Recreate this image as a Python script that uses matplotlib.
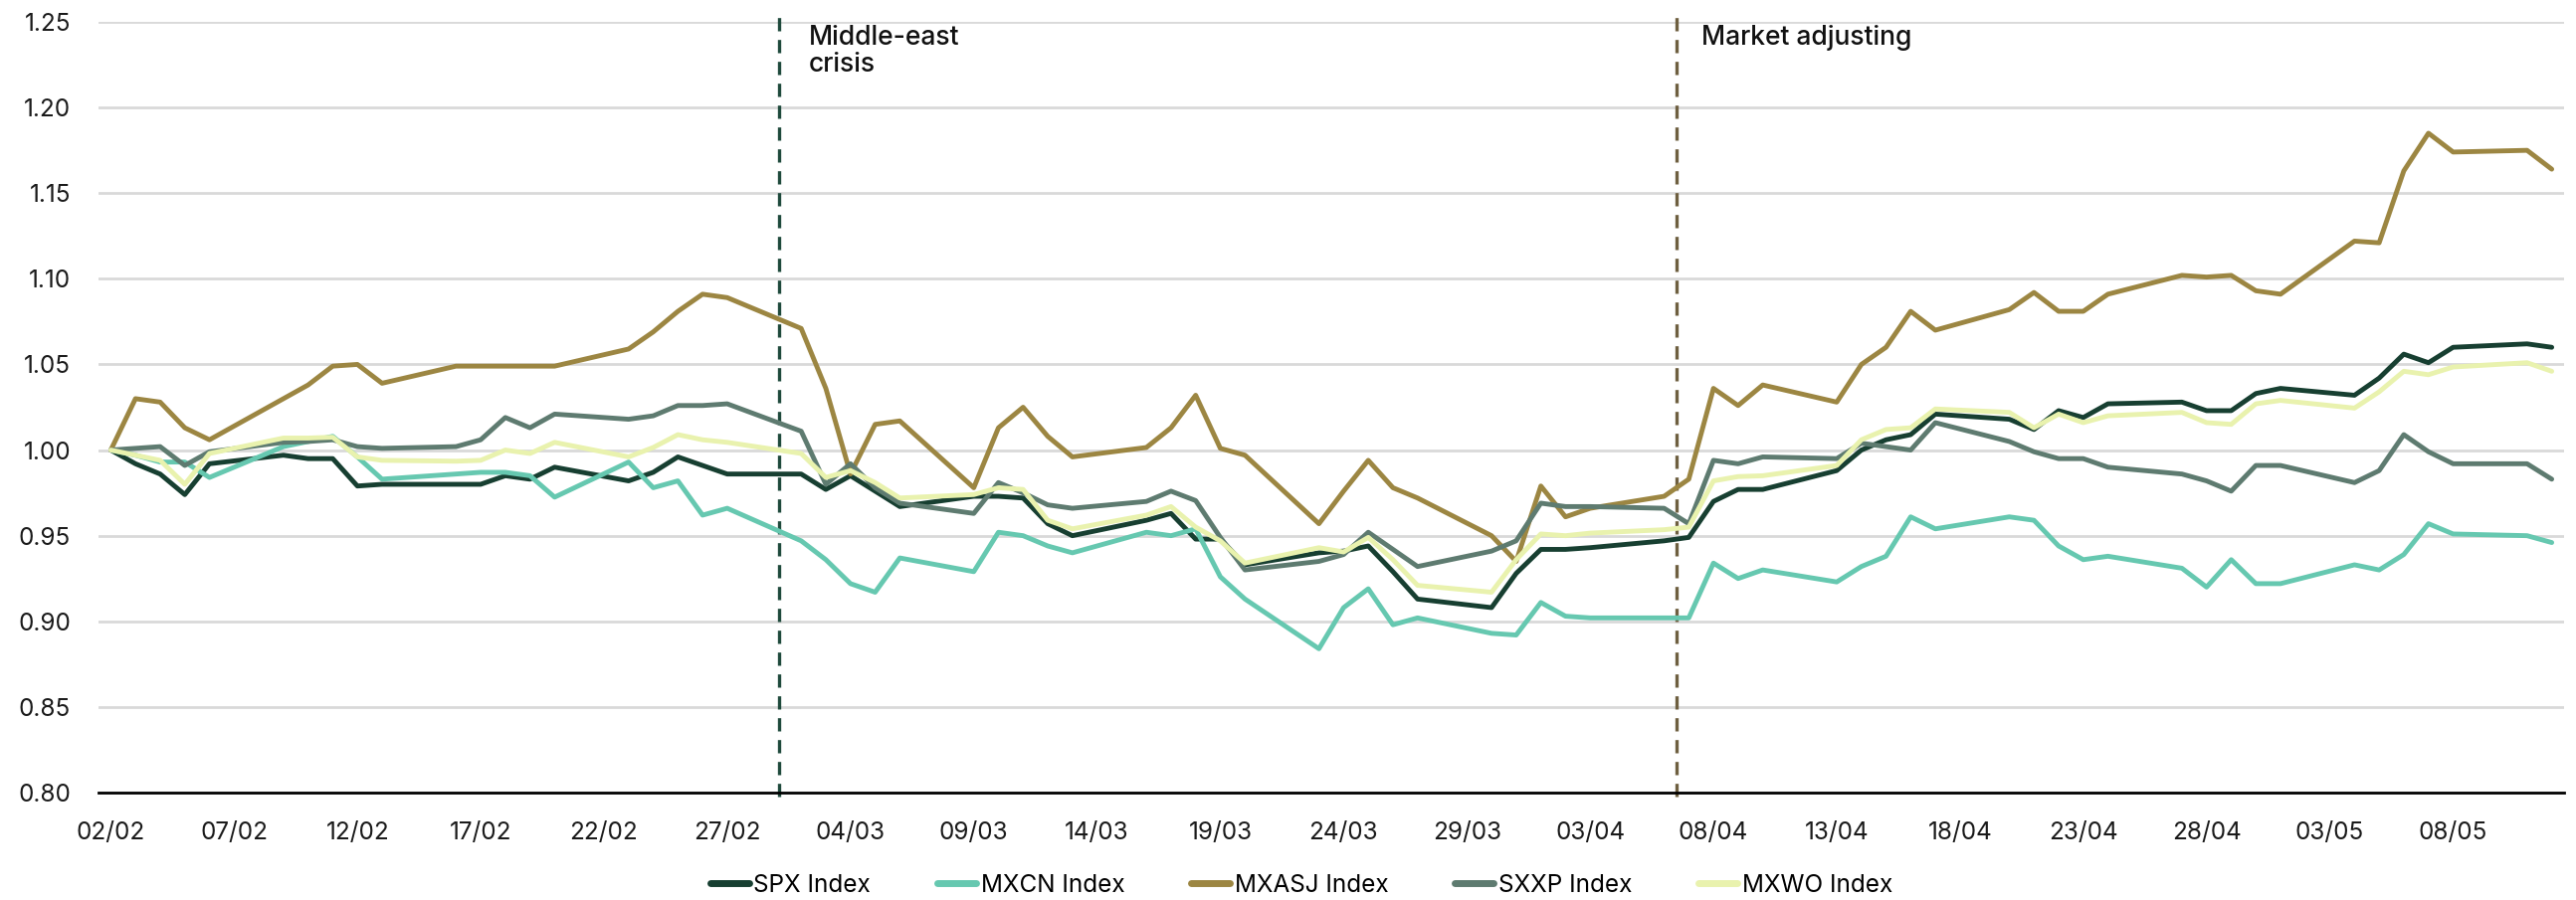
import numpy as np
import pandas as pd
import matplotlib
matplotlib.use("Agg")
import matplotlib.pyplot as plt
import matplotlib.dates as mdates

plt.rcParams['font.family'] = ['Inter', 'DejaVu Sans']

# trading days, 02/02 - 12/05
dates = pd.bdate_range('2026-02-02', '2026-05-12')

spx = [1.000, 0.992, 0.986, 0.974, 0.992,
       0.997, 0.995, 0.995, 0.979, 0.980,
       0.980, 0.980, 0.985, 0.983, 0.990,
       0.982, 0.987, 0.996, 0.991, 0.986,
       0.986, 0.977, 0.985, 0.976, 0.967,
       0.973, 0.973, 0.972, 0.957, 0.950,
       0.959, 0.963, 0.948, 0.948, 0.933,
       0.940, 0.941, 0.944, 0.929, 0.913,
       0.908, 0.928, 0.942, 0.942, 0.943,
       0.947, 0.949, 0.970, 0.977, 0.977,
       0.988, 1.000, 1.006, 1.009, 1.021,
       1.018, 1.012, 1.023, 1.019, 1.027,
       1.028, 1.023, 1.023, 1.033, 1.036,
       1.032, 1.042, 1.056, 1.051, 1.060,
       1.062, 1.060]

mxcn = [1.000, 0.997, 0.993, 0.993, 0.984,
        1.002, 1.005, 1.008, 0.996, 0.983,
        0.986, 0.987, 0.987, 0.985, 0.9725,
        0.993, 0.978, 0.982, 0.962, 0.966,
        0.947, 0.936, 0.922, 0.917, 0.937,
        0.929, 0.952, 0.950, 0.944, 0.940,
        0.952, 0.950, 0.954, 0.926, 0.913,
        0.884, 0.908, 0.919, 0.898, 0.902,
        0.893, 0.892, 0.911, 0.903, 0.902,
        0.902, 0.902, 0.934, 0.925, 0.930,
        0.923, 0.932, 0.938, 0.961, 0.954,
        0.961, 0.959, 0.944, 0.936, 0.938,
        0.931, 0.920, 0.936, 0.922, 0.922,
        0.933, 0.930, 0.939, 0.957, 0.951,
        0.950, 0.946]

mxasj = [1.000, 1.030, 1.028, 1.013, 1.006,
         1.030, 1.038, 1.049, 1.050, 1.039,
         1.049, 1.049, 1.049, 1.049, 1.049,
         1.059, 1.069, 1.081, 1.091, 1.089,
         1.071, 1.036, 0.986, 1.015, 1.017,
         0.978, 1.013, 1.025, 1.008, 0.996,
         1.0015, 1.013, 1.032, 1.001, 0.997,
         0.957, 0.976, 0.994, 0.978, 0.972,
         0.950, 0.935, 0.979, 0.961, 0.966,
         0.973, 0.983, 1.036, 1.026, 1.038,
         1.028, 1.050, 1.060, 1.081, 1.070,
         1.082, 1.092, 1.081, 1.081, 1.091,
         1.102, 1.101, 1.102, 1.093, 1.091,
         1.122, 1.121, 1.163, 1.185, 1.174,
         1.175, 1.164]

sxxp = [1.000, 1.001, 1.002, 0.991, 0.999,
        1.0045, 1.005, 1.006, 1.002, 1.001,
        1.002, 1.006, 1.019, 1.013, 1.021,
        1.018, 1.020, 1.026, 1.026, 1.027,
        1.011, 0.980, 0.992, 0.978, 0.969,
        0.963, 0.981, 0.975, 0.968, 0.966,
        0.970, 0.976, 0.9705, 0.949, 0.930,
        0.935, 0.939, 0.952, 0.942, 0.932,
        0.941, 0.947, 0.969, 0.967, 0.967,
        0.966, 0.957, 0.994, 0.992, 0.996,
        0.995, 1.004, 1.002, 1.000, 1.016,
        1.005, 0.999, 0.995, 0.995, 0.990,
        0.986, 0.982, 0.976, 0.991, 0.991,
        0.981, 0.988, 1.009, 0.999, 0.992,
        0.992, 0.983]

mxwo = [1.000, 0.997, 0.994, 0.980, 0.998,
        1.007, 1.007, 1.0075, 0.996, 0.994,
        0.9935, 0.994, 1.000, 0.998, 1.0045,
        0.996, 1.0015, 1.009, 1.006, 1.0045,
        0.998, 0.984, 0.988, 0.981, 0.972,
        0.974, 0.978, 0.977, 0.959, 0.954,
        0.962, 0.967, 0.955, 0.947, 0.934,
        0.943, 0.9405, 0.949, 0.936, 0.921,
        0.917, 0.936, 0.951, 0.950, 0.9515,
        0.9535, 0.955, 0.982, 0.9845, 0.985,
        0.991, 1.006, 1.012, 1.013, 1.024,
        1.022, 1.013, 1.021, 1.016, 1.020,
        1.022, 1.016, 1.015, 1.027, 1.029,
        1.0245, 1.034, 1.046, 1.044, 1.0485,
        1.051, 1.046]

series = [("SPX Index", spx, "#173f31"),
          ("MXCN Index", mxcn, "#66c8b0"),
          ("MXASJ Index", mxasj, "#9c8642"),
          ("SXXP Index", sxxp, "#5e7b70"),
          ("MXWO Index", mxwo, "#e9f2ae")]

events = [(pd.Timestamp('2026-03-01 02:00'), "#1f4a3c"),
          (pd.Timestamp('2026-04-06 12:30'), "#6e5f40")]
notes = [(pd.Timestamp('2026-03-02 07:00'), "Middle-east\ncrisis"),
         (pd.Timestamp('2026-04-07 12:00'), "Market adjusting")]

fig = plt.figure(figsize=(25.89, 9.05), dpi=100)
ax = fig.add_axes([99 / 2589, 1 - 797 / 905, (2577 - 99) / 2589, (797 - 22) / 905])

for y in np.arange(0.85, 1.26, 0.05):
    ax.axhline(y, color="#d9d9d9", lw=2, zorder=0)

for name, vals, col in series:
    ax.plot(dates, vals, color=col, lw=3.5, label=name,
            solid_joinstyle='round', solid_capstyle='round', zorder=3)

for x, col in events:
    ax.axvline(x, ymin=-0.005, ymax=1.008, color=col, lw=2.4,
               dashes=(4, 2.6), clip_on=False, zorder=2)

for x, txt in notes:
    ax.text(x, 1.2485, txt, fontsize=19, fontweight='medium', va='top',
            ha='left', linespacing=1.05, color="#111111")

ax.set_ylim(0.8, 1.25)
ax.set_yticks(np.arange(0.80, 1.26, 0.05))
ax.yaxis.set_major_formatter(plt.FuncFormatter(lambda v, p: f"{v:.2f}"))
ax.set_xlim(dates[0] - pd.Timedelta(hours=12), dates[-1] + pd.Timedelta(hours=12))
ax.set_xticks(pd.date_range('2026-02-02', '2026-05-08', freq='5D'))
ax.xaxis.set_major_formatter(mdates.DateFormatter('%d/%m'))
ax.tick_params(length=0, labelsize=17.5, colors="#1a1a1a")
ax.tick_params(axis='y', pad=20)
ax.tick_params(axis='x', pad=21)

for s in ['top', 'right', 'left']:
    ax.spines[s].set_visible(False)
ax.spines['bottom'].set_color('black')
ax.spines['bottom'].set_linewidth(2)
ax.spines['bottom'].set_zorder(4)

leg = fig.legend(loc='center', bbox_to_anchor=(1308 / 2589, 1 - 890 / 905), ncol=5,
                 frameon=False, fontsize=17.5, handlelength=1.6, handletextpad=0.2,
                 columnspacing=2.75)
for h in leg.get_lines():
    h.set_linewidth(5)
    h.set_solid_capstyle('round')

fig.savefig("out.png", dpi=100)
